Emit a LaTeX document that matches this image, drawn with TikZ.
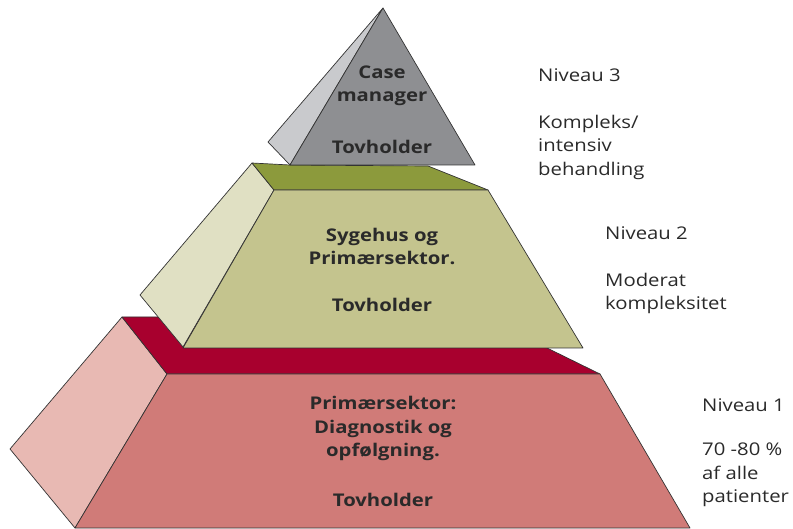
\documentclass[tikz,border=0pt]{standalone}
\usepackage{fontspec}
\setmainfont{Open Sans}[FakeStretch=1.16]
\usepackage{tikz}
\definecolor{txt}{HTML}{2A2A2A}
\definecolor{greyfront}{HTML}{8E8F92}
\definecolor{greyside}{HTML}{C9CACD}
\definecolor{olivetop}{HTML}{8C9A3C}
\definecolor{olivefront}{HTML}{C4C48E}
\definecolor{oliveside}{HTML}{E0E0C3}
\definecolor{redtop}{HTML}{A8002E}
\definecolor{redfront}{HTML}{D07B78}
\definecolor{redside}{HTML}{E8B9B3}
\tikzset{
	facet/.style={draw=black!80, line width=0.7pt, line join=round},
	inside/.style={font=\fontsize{17.5}{23.5}\selectfont\bfseries, text=txt, align=center, inner sep=0pt},
	levellabel/.style={font=\fontsize{17.5}{23.5}\selectfont, text=txt, align=left, anchor=west, inner sep=0pt}
}

\begin{document}
\begin{tikzpicture}[x=1pt, y=-1pt]
				\useasboundingbox (0,0) rectangle (793,529);
				\filldraw[facet, fill=redside] (122,317) -- (167,374) -- (75,528) -- (10,449) -- cycle;
				\filldraw[facet, fill=redtop] (122,317) -- (167,374) -- (600,374) -- (547,348) -- (547,317) -- cycle;
				\filldraw[facet, fill=redfront] (167,374) -- (600,374) -- (690,528) -- (75,528) -- cycle;
				
				\filldraw[facet, fill=oliveside] (252,163) -- (274,190) -- (183,347) -- (140,295) -- cycle;
				\filldraw[facet, fill=olivetop] (252,163) -- (274,190) -- (488,190) -- (428,166) -- (290,165) -- cycle;
				\filldraw[facet, fill=olivefront] (274,190) -- (488,190) -- (583,348) -- (183,348) -- cycle;
				
				\filldraw[facet, fill=greyside] (383,8) -- (268,142) -- (290,165) -- cycle;
				\filldraw[facet, fill=greyfront] (383,8) -- (290,165) -- (475,165) -- cycle;
				
				\node[inside] (casemgr) at (382,86) {Case\\manager};
				\node[inside] (holder3) at (382,147) {Tovholder};
				\node[inside] (hospital) at (382,246.5) {Sygehus og\\Primærsektor.};
				\node[inside] (holder2) at (382,305) {Tovholder};
				\node[inside] (primary) at (383,428.5) {Primærsektor:\\Diagnostik og\\opfølgning.};
				\node[inside] (holder1) at (383,500) {Tovholder};
				
				\node[levellabel] (level3) at (538,75) {Niveau 3};
				\node[levellabel] (desc3) at (538,147) {Kompleks/\\intensiv\\behandling};
				\node[levellabel] (level2) at (605,233) {Niveau 2};
				\node[levellabel] (desc2) at (605,293.5) {Moderat\\kompleksitet};
				\node[levellabel] (level1) at (702,405) {Niveau 1};
				\node[levellabel] (desc1) at (702,475) {70 -80 \%\\af alle\\patienter};
				\end{tikzpicture}
\end{document}
